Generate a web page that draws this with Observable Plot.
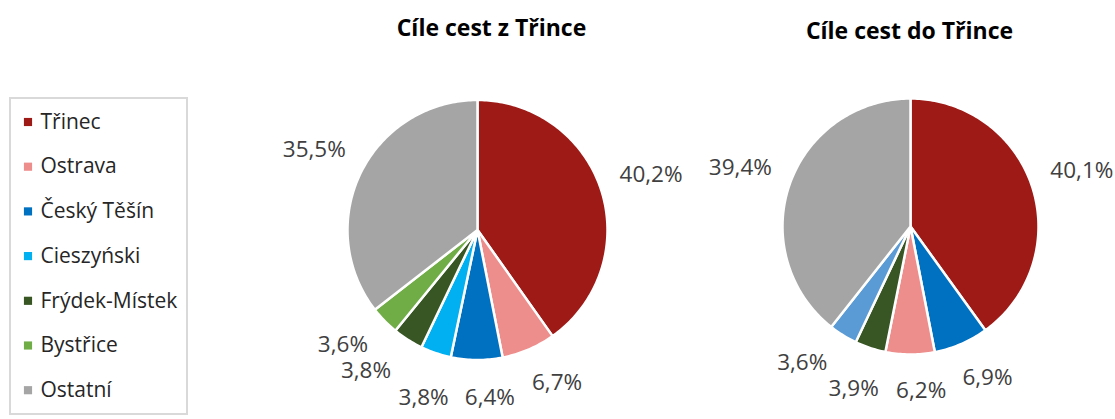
<!DOCTYPE html>
<html><head><meta charset="utf-8">
<script src="https://cdn.jsdelivr.net/npm/d3@7"></script>
<script src="https://cdn.jsdelivr.net/npm/@observablehq/plot@0.6"></script>
<style>body{margin:0;background:#fff;} svg{display:block;}</style>
</head><body><div id="chart"></div>
<script>
// ---- data ----
const legendCategories = ["Třinec","Ostrava","Český Těšín","Cieszyński","Frýdek-Místek","Bystřice","Ostatní"];
const legendColors = ["#9E1A17","#EE8E8C","#0070C0","#00B0F0","#375623","#70AD47","#A5A5A5"];
const extraCategory = "Jiné";
const extraColor = "#5B9BD5";
const titles = ["Cíle cest z Třince","Cíle cest do Třince"];
const fromCategories = ["Třinec","Ostrava","Český Těšín","Cieszyński","Frýdek-Místek","Bystřice","Ostatní"];
const fromValues = [40.2,6.7,6.4,3.8,3.8,3.6,35.5];
const toCategories = ["Třinec","Český Těšín","Ostrava","Frýdek-Místek",extraCategory,"Ostatní"];
const toValues = [40.1,6.9,6.2,3.9,3.6,39.4];

// ---- layout ----
const W = 1115, H = 419;
const FONT = "'Open Sans', 'Noto Sans', sans-serif";
const pies = [
  {title: titles[0], cats: fromCategories, vals: fromValues, cx: 477, cy: 229.5, r: 130, tx: 491, ty: 28},
  {title: titles[1], cats: toCategories, vals: toValues, cx: 910, cy: 226, r: 128, tx: 909, ty: 31}
];
const fmt = v => v.toFixed(1).replace(".", ",") + "%";
const ctx = document.createElement("canvas").getContext("2d");
const labelSize = 22.5;
ctx.font = `${labelSize}px ${FONT}`;

const wedgePts = [], labels = [], titleRows = [];
pies.forEach((p, pi) => {
  const total = d3.sum(p.vals);
  let acc = 0;
  titleRows.push({x: p.tx, y: p.ty, text: p.title});
  const pieLabels = [];
  p.vals.forEach((v, i) => {
    const a0 = acc / total * 2 * Math.PI;
    acc += v;
    const a1 = acc / total * 2 * Math.PI;
    const key = pi + "-" + i;
    const cat = p.cats[i];
    wedgePts.push({key, cat, x: p.cx, y: p.cy});
    const n = Math.max(2, Math.ceil((a1 - a0) / (Math.PI / 180)));
    for (let k = 0; k <= n; k++) {
      const a = a0 + (a1 - a0) * k / n;
      wedgePts.push({key, cat, x: p.cx + p.r * Math.sin(a), y: p.cy - p.r * Math.cos(a)});
    }
    wedgePts.push({key, cat, x: p.cx, y: p.cy});
    const text = fmt(v);
    pieLabels.push({text, a: (a0 + a1) / 2, extra: 0, hw: ctx.measureText(text).width / 2, hh: labelSize * 0.45});
  });
  const place = l => {
    const s = Math.sin(l.a), c = Math.cos(l.a);
    const d = p.r + 19 + l.extra + l.hw * Math.abs(s) + l.hh * Math.abs(c);
    l.x = p.cx + d * s; l.y = p.cy - d * c;
  };
  pieLabels.forEach(place);
  const padX = 16, padY = 6;
  for (let it = 0; it < 600; it++) {
    let moved = false;
    for (let i = 0; i < pieLabels.length - 1; i++) {
      const A = pieLabels[i], B = pieLabels[i + 1];
      const ox = (A.hw + B.hw + padX) - Math.abs(A.x - B.x);
      const oy = (A.hh + B.hh + padY) - Math.abs(A.y - B.y);
      if (ox > 0 && oy > 0) {
        A.a -= 0.004; B.a += 0.004;
        A.extra = Math.min(A.extra + 0.12, 14); B.extra = Math.min(B.extra + 0.12, 14);
        place(A); place(B); moved = true;
      }
    }
    if (!moved) break;
  }
  labels.push(...pieLabels);
});

const legendRows = legendCategories.map((c, i) => ({cat: c, y: 121.5 + i * 44.7}));

const chart = Plot.plot({
  width: W, height: H,
  margin: 0,
  style: {fontFamily: FONT, background: "#fff"},
  x: {domain: [0, W], range: [0, W], axis: null},
  y: {domain: [0, H], range: [0, H], axis: null},
  color: {domain: [...legendCategories, extraCategory], range: [...legendColors, extraColor]},
  marks: [
    Plot.line(wedgePts, {x: "x", y: "y", z: "key", fill: "cat", stroke: "white", strokeWidth: 2.5, strokeLinejoin: "round", curve: "linear"}),
    Plot.text(labels, {x: "x", y: "y", text: "text", fontSize: labelSize, fill: "#404040", textAnchor: "middle", lineAnchor: "middle"}),
    Plot.text(titleRows, {x: "x", y: "y", text: "text", fontSize: 23, fontWeight: "bold", fill: "#000", textAnchor: "middle", lineAnchor: "middle"}),
    Plot.rect([{x1: 10, x2: 187, y1: 98, y2: 414}], {x1: "x1", x2: "x2", y1: "y1", y2: "y2", fill: "none", stroke: "#D9D9D9", strokeWidth: 2}),
    Plot.dot(legendRows, {x: () => 27.5, y: "y", symbol: "square", r: 4.6, fill: "cat", stroke: "none"}),
    Plot.text(legendRows, {x: () => 40, y: "y", text: "cat", fontSize: 21, fill: "#262626", textAnchor: "start", lineAnchor: "middle"})
  ]
});
document.getElementById("chart").appendChild(chart);
</script>
</body></html>
